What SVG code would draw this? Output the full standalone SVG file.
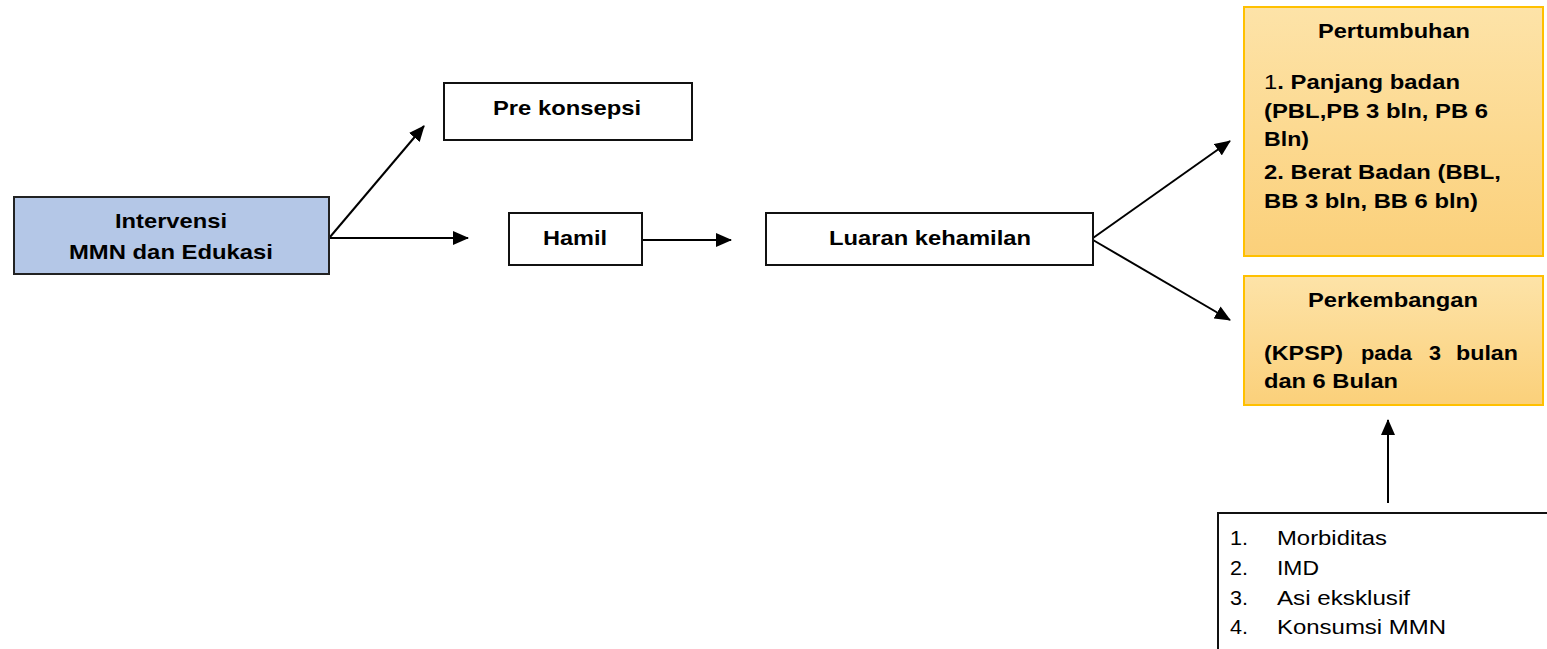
<svg xmlns="http://www.w3.org/2000/svg" width="1547" height="649" viewBox="0 0 1547 649">
<style>
.box{fill:#fff;stroke:#111;stroke-width:2}
.blue{fill:#b4c7e7;stroke:#222;stroke-width:2}
.orange{fill:url(#og);stroke:#ffc000;stroke-width:2}
.t{font-family:"Liberation Sans",Arial,sans-serif;font-size:20.5px;font-weight:bold;fill:#000}
.r{font-family:"Liberation Sans",Arial,sans-serif;font-size:20.5px;fill:#000}
.c{stroke:#000;stroke-width:2;fill:none;marker-end:url(#ah)}
</style>
<defs>
<linearGradient id="og" x1="0" y1="0" x2="0" y2="1">
<stop offset="0" stop-color="#fde3a8"/>
<stop offset="1" stop-color="#fbd07a"/>
</linearGradient>
<marker id="ah" viewBox="0 0 16 14" refX="15" refY="7" markerWidth="16" markerHeight="14" markerUnits="userSpaceOnUse" orient="auto">
<path d="M0,0 L16,7 L0,14 Z" fill="#000"/>
</marker>
</defs>
<g id="connectors">
<line class="c" x1="330" y1="237" x2="424" y2="126"/>
<line class="c" x1="330" y1="238" x2="468" y2="238"/>
<line class="c" x1="642" y1="240" x2="731" y2="240"/>
<line class="c" x1="1093" y1="238" x2="1230" y2="141"/>
<line class="c" x1="1093" y1="240" x2="1230" y2="320"/>
<line class="c" x1="1388" y1="503" x2="1388" y2="420"/>
</g>
<g id="intervensi">
<rect class="blue" x="14" y="197" width="315" height="77"/>
<text class="t" x="115" y="228" textLength="112" lengthAdjust="spacingAndGlyphs">Intervensi</text>
<text class="t" x="69" y="259" textLength="204" lengthAdjust="spacingAndGlyphs">MMN dan Edukasi</text>
</g>
<g id="prekonsepsi">
<rect class="box" x="444" y="83" width="248" height="57"/>
<text class="t" x="493" y="115" textLength="148" lengthAdjust="spacingAndGlyphs">Pre konsepsi</text>
</g>
<g id="hamil">
<rect class="box" x="509" y="213" width="133" height="52"/>
<text class="t" x="543" y="245" textLength="64" lengthAdjust="spacingAndGlyphs">Hamil</text>
</g>
<g id="luaran">
<rect class="box" x="766" y="213" width="327" height="52"/>
<text class="t" x="829" y="245" textLength="202" lengthAdjust="spacingAndGlyphs">Luaran kehamilan</text>
</g>
<g id="pertumbuhan">
<rect class="orange" x="1244" y="7" width="299" height="249"/>
<text class="t" x="1318" y="38" textLength="152" lengthAdjust="spacingAndGlyphs">Pertumbuhan</text>
<text class="t" x="1264" y="89" textLength="196" lengthAdjust="spacingAndGlyphs"><tspan font-weight="normal">1</tspan>. Panjang badan</text>
<text class="t" x="1264" y="118" textLength="224" lengthAdjust="spacingAndGlyphs">(PBL,PB 3 bln, PB 6</text>
<text class="t" x="1264" y="146" textLength="45" lengthAdjust="spacingAndGlyphs">Bln)</text>
<text class="t" x="1264" y="179" textLength="237" lengthAdjust="spacingAndGlyphs">2. Berat Badan (BBL,</text>
<text class="t" x="1264" y="208" textLength="214" lengthAdjust="spacingAndGlyphs">BB 3 bln, BB 6 bln)</text>
</g>
<g id="perkembangan">
<rect class="orange" x="1244" y="276" width="299" height="129"/>
<text class="t" x="1308" y="307" textLength="170" lengthAdjust="spacingAndGlyphs">Perkembangan</text>
<text class="t" y="360"><tspan x="1264" textLength="79" lengthAdjust="spacingAndGlyphs">(KPSP)</tspan><tspan x="1361" textLength="51" lengthAdjust="spacingAndGlyphs">pada</tspan><tspan x="1429" textLength="12" lengthAdjust="spacingAndGlyphs">3</tspan><tspan x="1456" textLength="62" lengthAdjust="spacingAndGlyphs">bulan</tspan></text>
<text class="t" x="1264" y="388" textLength="134" lengthAdjust="spacingAndGlyphs">dan 6 Bulan</text>
</g>
<g id="faktor">
<rect class="box" x="1218" y="513" width="340" height="150"/>
<text class="r" x="1230" y="545" textLength="18" lengthAdjust="spacingAndGlyphs">1.</text>
<text class="r" x="1277" y="545" textLength="110" lengthAdjust="spacingAndGlyphs">Morbiditas</text>
<text class="r" x="1230" y="575" textLength="18" lengthAdjust="spacingAndGlyphs">2.</text>
<text class="r" x="1277" y="575" textLength="42" lengthAdjust="spacingAndGlyphs">IMD</text>
<text class="r" x="1230" y="605" textLength="18" lengthAdjust="spacingAndGlyphs">3.</text>
<text class="r" x="1277" y="605" textLength="133" lengthAdjust="spacingAndGlyphs">Asi eksklusif</text>
<text class="r" x="1230" y="634" textLength="18" lengthAdjust="spacingAndGlyphs">4.</text>
<text class="r" x="1277" y="634" textLength="169" lengthAdjust="spacingAndGlyphs">Konsumsi MMN</text>
</g>
</svg>
